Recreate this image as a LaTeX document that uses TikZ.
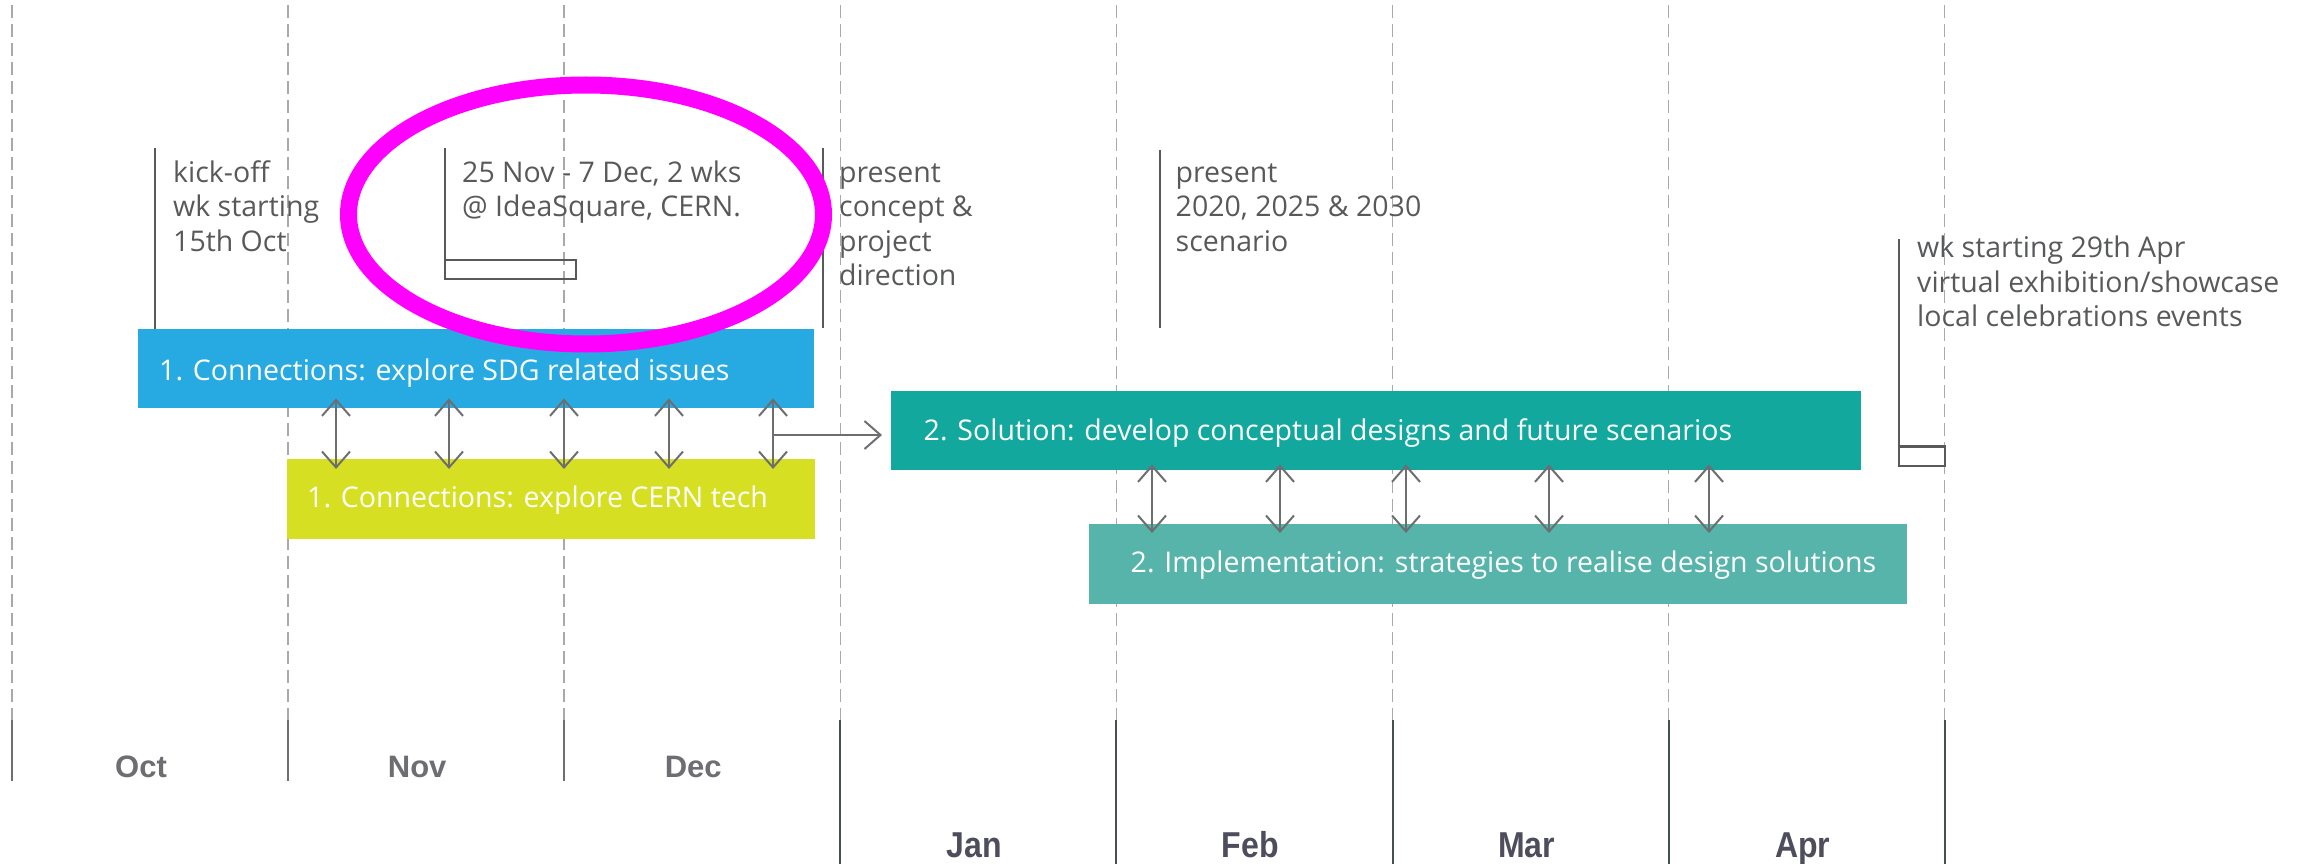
\documentclass[tikz,border=0pt]{standalone}
\usepackage{fontspec}
\setmainfont{Open Sans}
\newfontfamily\monthfont{Liberation Sans}
\newfontfamily\monthfontnarrow[FakeStretch=0.89]{Liberation Sans}
\usetikzlibrary{arrows.meta}

\definecolor{sdgblue}{HTML}{27AAE1}
\definecolor{techlime}{HTML}{D7DF23}
\definecolor{solteal}{HTML}{13A89E}
\definecolor{impteal}{HTML}{56B4AA}
\definecolor{notegray}{HTML}{58595B}
\definecolor{gridgray}{HTML}{A7A9AC}
\definecolor{linkgray}{HTML}{6D6E71}
\definecolor{monthgray}{HTML}{6D6E71}
\definecolor{monthdark}{HTML}{4D4D5C}
\definecolor{ruledark}{HTML}{45524C}
\definecolor{ringpink}{RGB}{255,0,255}

\tikzset{
  gridline/.style={gridgray,line width=1.5pt,dash pattern=on 13pt off 6pt},
  monthrule/.style={line width=2pt},
  phasebar/.style={anchor=north west,inner sep=0pt,minimum height=79.5pt},
  bartext/.style={anchor=base west,inner sep=0pt,text=white,font=\fontsize{28.5}{34.5}\selectfont},
  note/.style={anchor=base west,inner sep=0pt,align=left,text=notegray,font=\fontsize{28.5}{34.5}\selectfont},
  noteline/.style={notegray,line width=2.2pt},
  link/.style={linkgray,line width=2pt,{Straight Barb[length=16pt,width=28pt]}-{Straight Barb[length=16pt,width=28pt]}},
  feed/.style={linkgray,line width=2pt,-{Straight Barb[length=16pt,width=28pt]}},
  month/.style={anchor=base,inner sep=0pt,text=monthgray,font=\monthfont\bfseries\fontsize{31}{37}\selectfont},
  latemonth/.style={anchor=base,inner sep=0pt,text=monthdark,font=\monthfontnarrow\bfseries\fontsize{36}{42}\selectfont},
  ring/.style={ringpink,line width=17pt},
}

\begin{document}
\begin{tikzpicture}[x=1pt,y=-1pt]
  \pgfmathsetmacro{\w}{276.1}
  \pgfmathsetmacro{\xo}{12}
  \pgfmathsetmacro{\lh}{34.5}
  \useasboundingbox (0,0) rectangle (2313,864);

  \foreach \i in {0,...,7}
    \draw[gridline] (\xo+\i*\w,5) -- (\xo+\i*\w,720);
  \foreach \i in {0,1,2}
    \draw[monthrule,monthgray] (\xo+\i*\w,720) -- (\xo+\i*\w,781);
  \foreach \i in {3,...,7}
    \draw[monthrule,ruledark] (\xo+\i*\w,720) -- (\xo+\i*\w,864);

  \foreach \m [count=\i from 0] in {Oct,Nov,Dec}
    \node[month] (m\m) at (\xo+\i*\w+0.5*\w-9,777) {\m};
  \foreach \m [count=\i from 3] in {Jan,Feb,Mar,Apr}
    \node[latemonth] (m\m) at (\xo+\i*\w+0.5*\w-4,857) {\m};

  \node[phasebar,fill=sdgblue,minimum width=676pt] (sdg) at (138,328.5) {};
  \node[phasebar,fill=techlime,minimum width=528pt] (tech) at (287,459) {};
  \node[phasebar,fill=solteal,minimum width=970pt] (sol) at (891,390.5) {};
  \node[phasebar,fill=impteal,minimum width=818pt] (imp) at (1089,524) {};

  \node[bartext] (sdgtext) at (159,380) {1. Connections: explore SDG related issues};
  \node[bartext] (techtext) at (307,507) {1. Connections: explore CERN tech};
  \node[bartext] (soltext) at (923.5,440.5) {2. Solution: develop conceptual designs and future scenarios};
  \node[bartext] (imptext) at (1130.5,572.5) {2. Implementation: strategies to realise design solutions};

  \foreach \ax in {336,449,564,669,773}
    \draw[link] ([yshift=10pt]sdg.south -| \ax,0) -- ([yshift=-10pt]tech.north -| \ax,0);
  \draw[feed] (773,435) -- ([xshift=-9pt]sol.west |- 0,435);
  \foreach \ax in {1152,1280,1406,1549,1709}
    \draw[link] ([yshift=6pt]sol.south -| \ax,0) -- ([yshift=-9pt]imp.north -| \ax,0);

  \node[note] (kickoff) at (173,182+2*\lh) {kick-off\\wk starting\\15th Oct};
  \node[note] (idea) at (462,182+\lh) {25 Nov - 7 Dec, 2 wks\\@ IdeaSquare, CERN.};
  \node[note] (concept) at (839,182+3*\lh) {present\\concept \&\\project\\direction};
  \node[note] (scenario) at (1175.5,182+2*\lh) {present\\2020, 2025 \& 2030\\scenario};
  \node[note] (showcase) at (1917,257.5+2*\lh) {wk starting 29th Apr\\virtual exhibition/showcase\\local celebrations events};

  \draw[noteline] (155,148) -- (155,329);
  \draw[noteline] (445,148) -- (445,279) -- (576,279) -- (576,260) -- (445,260);
  \draw[noteline] (823,148) -- (823,328);
  \draw[noteline] (1160,150) -- (1160,328);
  \draw[noteline] (1899,239) -- (1899,466) -- (1945,466) -- (1945,446.5) -- (1899,446.5);

  \draw[ring] (586,214.5) ellipse [x radius=237.5pt, y radius=129.5pt];
\end{tikzpicture}
\end{document}
